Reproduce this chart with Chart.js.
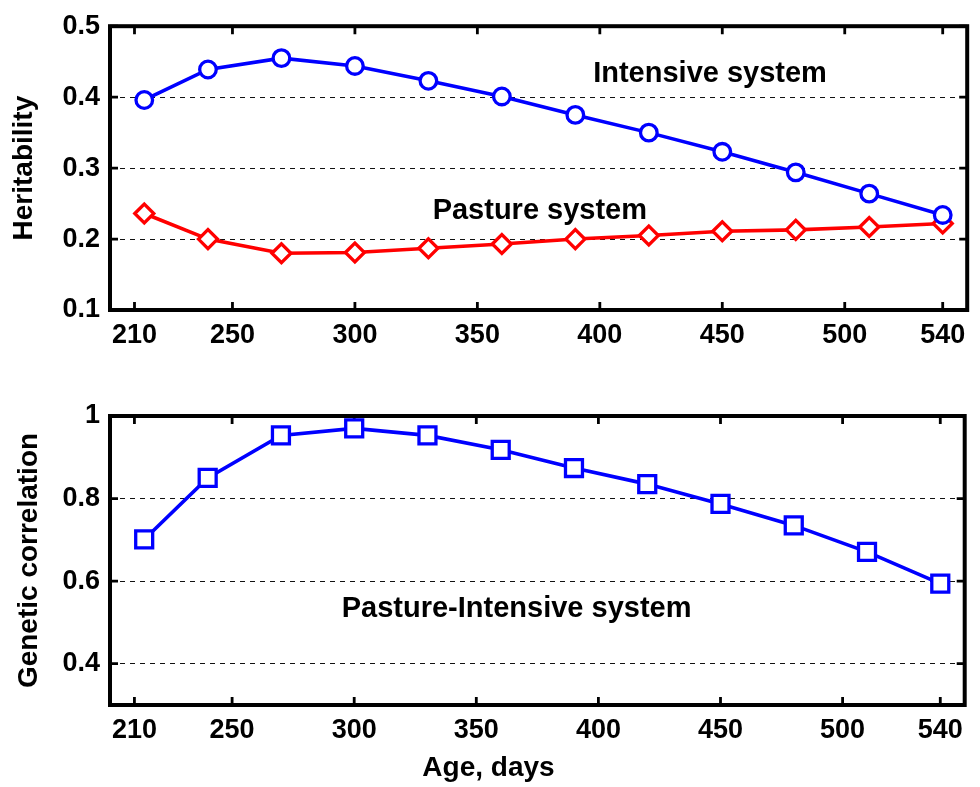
<!DOCTYPE html>
<html><head><meta charset="utf-8">
<script src="https://cdn.jsdelivr.net/npm/chart.js@4.4.0/dist/chart.umd.min.js"></script>
<style>body{margin:0;background:#fff;width:980px;height:787px;overflow:hidden} canvas{position:absolute;left:0}</style>
</head><body>
<canvas id="c1" width="980" height="375" style="top:0"></canvas>
<canvas id="c2" width="980" height="412" style="top:375px"></canvas>
<script>
const ages = [214, 240, 270, 300, 330, 360, 390, 420, 450, 480, 510, 540];
const intensive = [0.396, 0.439, 0.455, 0.444, 0.423, 0.401, 0.375, 0.350, 0.323, 0.294, 0.264, 0.234];
const pasture = [0.236, 0.200, 0.180, 0.181, 0.187, 0.193, 0.200, 0.205, 0.211, 0.213, 0.217, 0.222];
const correlation = [0.701, 0.850, 0.953, 0.970, 0.953, 0.918, 0.874, 0.835, 0.787, 0.735, 0.671, 0.594];
const xTicks = [210, 250, 300, 350, 400, 450, 500, 540];
const herTicks = [0.1, 0.2, 0.3, 0.4, 0.5];
const corTicks = [0.4, 0.6, 0.8, 1];

const FONT = "'Liberation Sans', Arial, Helvetica, sans-serif";
Chart.defaults.font.family = FONT;
Chart.defaults.color = '#000';

const framePlugin = {
  id: 'frame',
  beforeDatasetsDraw(chart) {
    const {ctx, chartArea: a, scales: {x, y}} = chart;
    ctx.save();
    ctx.strokeStyle = '#000';
    ctx.lineWidth = 2.8;
    ctx.beginPath();
    x.ticks.forEach(t => {
      const px = x.getPixelForValue(t.value);
      ctx.moveTo(px, a.bottom); ctx.lineTo(px, a.bottom - 8);
      ctx.moveTo(px, a.top); ctx.lineTo(px, a.top + 8);
    });
    y.ticks.forEach(t => {
      const py = y.getPixelForValue(t.value);
      ctx.moveTo(a.left, py); ctx.lineTo(a.left + 8, py);
      ctx.moveTo(a.right, py); ctx.lineTo(a.right - 8, py);
    });
    ctx.stroke();
    ctx.lineWidth = 4;
    ctx.strokeRect(a.left, a.top, a.right - a.left, a.bottom - a.top);
    ctx.restore();
  },
  afterDraw(chart, args, opts) {
    const {ctx, scales: {x, y}} = chart;
    ctx.save();
    ctx.fillStyle = '#000';
    ctx.textAlign = 'center';
    ctx.textBaseline = 'middle';
    (opts.labels || []).forEach(l => {
      ctx.font = 'bold ' + l.size + 'px ' + FONT;
      const py = l.py !== undefined ? l.py : y.getPixelForValue(l.y);
      ctx.fillText(l.text, x.getPixelForValue(l.x), py);
    });
    ctx.restore();
  }
};

function makeOptions(yMin, yMax, yTicks, yTitle, titlePad, padTop, xHeight, labels) {
  return {
    responsive: false,
    animation: false,
    layout: {padding: {top: padTop, right: 7, left: 0, bottom: 0}},
    plugins: {legend: {display: false}, tooltip: {enabled: false}, frame: {labels}},
    scales: {
      x: {
        type: 'linear', min: 200, max: 550,
        afterBuildTicks: s => { s.ticks = xTicks.map(v => ({value: v})); },
        afterFit: s => { s.height = xHeight; },
        grid: {display: false, drawTicks: false},
        border: {display: false},
        ticks: {font: {size: 27, weight: 'bold'}, padding: 9, maxRotation: 0, autoSkip: false, callback: v => String(v)}
      },
      y: {
        type: 'linear', min: yMin, max: yMax,
        afterBuildTicks: s => { s.ticks = yTicks.map(v => ({value: v})); },
        afterFit: s => { s.width = 110; },
        grid: {color: '#111', lineWidth: 1, drawTicks: false},
        border: {display: false, dash: [5, 5]},
        ticks: {font: {size: 27, weight: 'bold'}, padding: 10, autoSkip: false,
                callback: v => (Math.abs(v - 1) < 1e-9 ? '1' : Number(v).toFixed(1))},
        title: {display: true, text: yTitle, font: {size: 28, weight: 'bold'}, padding: {top: titlePad, bottom: 0}}
      }
    }
  };
}

new Chart(document.getElementById('c1'), {
  type: 'line',
  data: {
    labels: ages,
    datasets: [
      {data: ages.map((a, i) => ({x: a, y: intensive[i]})), borderColor: '#0000ff', borderWidth: 3.6,
       pointStyle: 'circle', pointRadius: 8.3, pointBorderWidth: 3.3, pointBackgroundColor: '#fff', pointBorderColor: '#0000ff', tension: 0},
      {data: ages.map((a, i) => ({x: a, y: pasture[i]})), borderColor: '#ff0000', borderWidth: 3.6,
       pointStyle: 'rectRot', pointRadius: 9.5, pointBorderWidth: 3.3, pointBackgroundColor: '#fff', pointBorderColor: '#ff0000', tension: 0}
    ]
  },
  options: makeOptions(0.1, 0.5, herTicks, 'Heritability', 7, 22, 65, [
    {text: 'Intensive system', x: 445, y: 0.433, size: 29},
    {text: 'Pasture system', x: 375.5, y: 0.239, size: 29}
  ]),
  plugins: [framePlugin]
});

new Chart(document.getElementById('c2'), {
  type: 'line',
  data: {
    labels: ages,
    datasets: [
      {data: ages.map((a, i) => ({x: a, y: correlation[i]})), borderColor: '#0000ff', borderWidth: 3.6,
       pointStyle: 'rect', pointRadius: 12, pointBorderWidth: 3.3, pointBackgroundColor: '#fff', pointBorderColor: '#0000ff', tension: 0}
    ]
  },
  options: makeOptions(0.3, 1, corTicks, 'Genetic correlation', 12, 41, 82, [
    {text: 'Pasture-Intensive system', x: 366.5, y: 0.533, size: 29},
    {text: 'Age, days', x: 355, py: 393, size: 28}
  ]),
  plugins: [framePlugin]
});
</script>
</body></html>
